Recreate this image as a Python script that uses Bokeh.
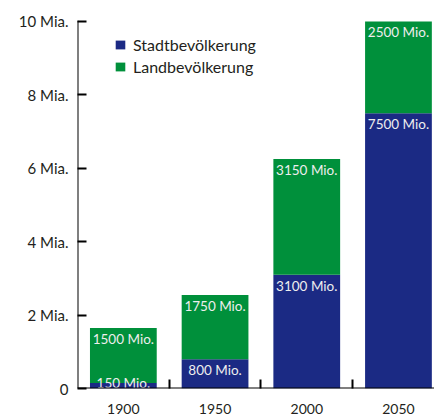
from bokeh.plotting import figure
from bokeh.models import ColumnDataSource, Range1d, FixedTicker, Legend, LegendItem, Span
from bokeh.core.properties import value
from bokeh.embed import file_html
from bokeh.resources import INLINE

# ---- data (values in Mia.) ----
years = ["1900", "1950", "2000", "2050"]
stadt = [0.15, 0.8, 3.1, 7.5]
land = [1.5, 1.75, 3.15, 2.5]
series_names = ["Stadtbevölkerung", "Landbevölkerung"]
y_ticks = [0, 2, 4, 6, 8, 10]
y_tick_labels = ["0", "2 Mia.", "4 Mia.", "6 Mia.", "8 Mia.", "10 Mia."]

BLUE = "#1B2A84"
GREEN = "#00903B"
INK = "#231F20"
FONT = "Lato"

xs = list(range(len(years)))
src = ColumnDataSource(dict(x=xs, stadt=stadt, land=land))

p = figure(width=434, height=418, output_backend="svg", toolbar_location=None,
           x_range=Range1d(-0.5, 3.393), y_range=Range1d(0, 10.027),
           min_border_left=77, min_border_right=0, min_border_top=20,
           min_border_bottom=30)
p.outline_line_color = None
p.xgrid.grid_line_color = None
p.ygrid.grid_line_color = None
p.background_fill_color = "white"
p.border_fill_color = "white"

rs = p.vbar_stack(["stadt", "land"], x="x", width=0.728, source=src,
                  fill_color=[BLUE, GREEN], line_color=None)

# value labels at the top of each segment
lab_x, lab_y, lab_t, lab_off = [], [], [], []
for i in xs:
    tops = [stadt[i], stadt[i] + land[i]]
    vals = [stadt[i], land[i]]
    for top, v in zip(tops, vals):
        lab_x.append(i)
        lab_y.append(top)
        lab_t.append(f"{int(round(v * 1000))} Mio.")
        lab_off.append(3 if v >= 0.5 else -8)
lsrc = ColumnDataSource(dict(x=lab_x, y=lab_y, t=lab_t, yo=lab_off))
p.text(x="x", y="y", text="t", y_offset="yo", source=lsrc,
       text_align="center", text_baseline="top",
       text_font=value(FONT), text_font_size="13.5px", text_color="#EEEEEE")

# axis lines drawn as spans
p.add_layout(Span(location=0, dimension="width", line_color="black", line_width=2))
p.add_layout(Span(location=-0.5, dimension="height", line_color="black", line_width=2))

# y axis
ya = p.yaxis[0]
ya.ticker = FixedTicker(ticks=y_ticks, minor_ticks=y_ticks)
ya.major_label_overrides = {t: l for t, l in zip(y_ticks, y_tick_labels)}
ya.major_tick_in = 0
ya.major_tick_out = 0
ya.minor_tick_in = 9
ya.minor_tick_out = 0
ya.minor_tick_line_width = 2
ya.minor_tick_line_color = "black"
ya.axis_line_color = None
ya.major_label_standoff = 9
ya.major_label_text_font = FONT
ya.major_label_text_font_size = "15px"
ya.major_label_text_color = INK

# x axis
xa = p.xaxis[0]
xa.ticker = FixedTicker(ticks=xs, minor_ticks=[x + 0.5 for x in xs[:-1]])
xa.major_label_overrides = {x: y for x, y in zip(xs, years)}
xa.major_tick_in = 0
xa.major_tick_out = 0
xa.minor_tick_in = 9
xa.minor_tick_out = 0
xa.minor_tick_line_width = 2
xa.minor_tick_line_color = "black"
xa.axis_line_color = None
xa.major_label_standoff = 15
xa.major_label_text_font = FONT
xa.major_label_text_font_size = "14px"
xa.major_label_text_color = INK

legend = Legend(items=[LegendItem(label=series_names[k], renderers=[rs[k]]) for k in range(2)],
                location=(37, 311.5))
legend.border_line_color = None
legend.background_fill_alpha = 0
legend.padding = 0
legend.margin = 0
legend.spacing = 2
legend.glyph_width = 12
legend.glyph_height = 11
legend.label_height = 20
legend.label_standoff = 7
legend.label_text_font = FONT
legend.label_text_font_size = "16px"
legend.label_text_color = INK
p.add_layout(legend)

open("out.html", "w").write(file_html(p, INLINE))
